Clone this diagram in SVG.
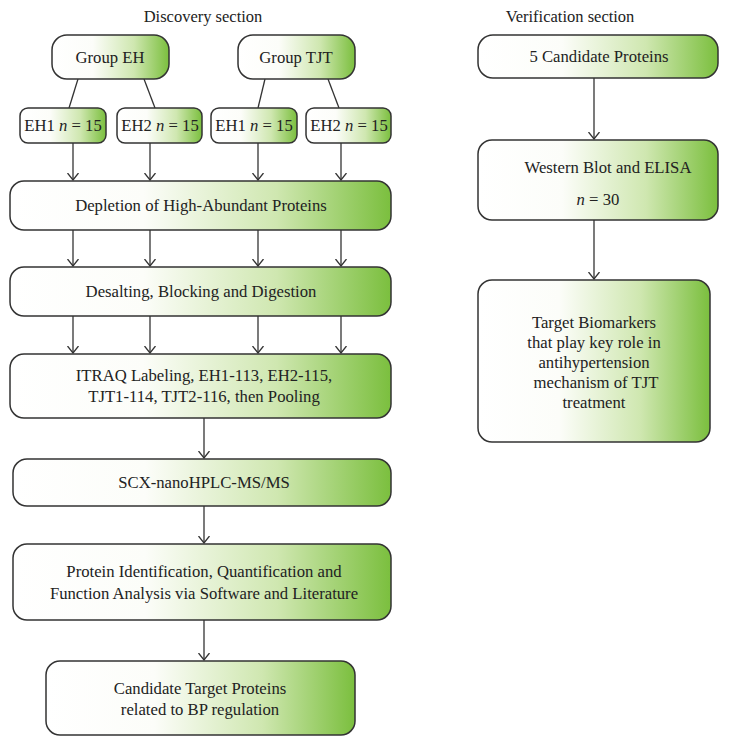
<svg xmlns="http://www.w3.org/2000/svg" width="729" height="746" viewBox="0 0 729 746">
<defs>
<linearGradient id="g" x1="0" y1="0" x2="1" y2="0">
<stop offset="0" stop-color="#ffffff"/>
<stop offset="0.35" stop-color="#fcfdf9"/>
<stop offset="0.7" stop-color="#cfe7b0"/>
<stop offset="1" stop-color="#7bbf3e"/>
</linearGradient>
<marker id="a" viewBox="0 0 8 12" refX="7.5" refY="6" markerWidth="8" markerHeight="12" markerUnits="userSpaceOnUse" orient="auto">
<path d="M0.5,0.5 L7.5,6 L0.5,11.5" fill="none" stroke="#333" stroke-width="1.3"/>
</marker>
<style>
.b{fill:url(#g);stroke:#333;stroke-width:1.5}
.t{font-family:"Liberation Serif","Times New Roman",serif;font-size:16.7px;fill:#222;text-anchor:middle}
.h{font-family:"Liberation Serif","Times New Roman",serif;font-size:16.5px;fill:#222;text-anchor:middle}
.c line{stroke:#333;stroke-width:1.3}
.c .ar{marker-end:url(#a)}
</style>
</defs>
<rect width="729" height="746" fill="#fff"/>
<text class="h" x="203" y="22">Discovery section</text>
<text class="h" x="570" y="22">Verification section</text>
<g class="c" id="connectors">
<line x1="78" y1="79" x2="69" y2="108"/>
<line x1="144" y1="79" x2="155" y2="108"/>
<line x1="265" y1="79" x2="258" y2="108"/>
<line x1="328" y1="79" x2="339" y2="108"/>
<line class="ar" x1="73" y1="143" x2="73" y2="180"/>
<line class="ar" x1="150" y1="143" x2="150" y2="180"/>
<line class="ar" x1="258" y1="143" x2="258" y2="180"/>
<line class="ar" x1="341" y1="143" x2="341" y2="180"/>
<line class="ar" x1="73" y1="230" x2="73" y2="266"/>
<line class="ar" x1="150" y1="230" x2="150" y2="266"/>
<line class="ar" x1="258" y1="230" x2="258" y2="266"/>
<line class="ar" x1="341" y1="230" x2="341" y2="266"/>
<line class="ar" x1="73" y1="316" x2="73" y2="353"/>
<line class="ar" x1="150" y1="316" x2="150" y2="353"/>
<line class="ar" x1="258" y1="316" x2="258" y2="353"/>
<line class="ar" x1="341" y1="316" x2="341" y2="353"/>
<line class="ar" x1="204" y1="418" x2="204" y2="458"/>
<line class="ar" x1="204" y1="506" x2="204" y2="543"/>
<line class="ar" x1="204" y1="620" x2="204" y2="660"/>
<line class="ar" x1="594" y1="78" x2="594" y2="139"/>
<line class="ar" x1="594" y1="220" x2="594" y2="279"/>
</g>
<g id="groupEH"><rect class="b" x="52" y="35" width="117" height="44" rx="15"/><text class="t" x="110" y="63">Group EH</text></g>
<g id="groupTJT"><rect class="b" x="238" y="35" width="117" height="44" rx="15"/><text class="t" x="296" y="63">Group TJT</text></g>
<g id="eh1a"><rect class="b" x="20" y="108" width="86" height="35" rx="8"/><text class="t" x="63" y="131">EH1 <tspan font-style="italic">n</tspan> = 15</text></g>
<g id="eh2a"><rect class="b" x="117" y="108" width="85" height="35" rx="8"/><text class="t" x="160" y="131">EH2 <tspan font-style="italic">n</tspan> = 15</text></g>
<g id="eh1b"><rect class="b" x="211" y="108" width="86" height="35" rx="8"/><text class="t" x="254" y="131">EH1 <tspan font-style="italic">n</tspan> = 15</text></g>
<g id="eh2b"><rect class="b" x="306" y="108" width="85" height="35" rx="8"/><text class="t" x="349" y="131">EH2 <tspan font-style="italic">n</tspan> = 15</text></g>
<g id="depletion"><rect class="b" x="10" y="181" width="381" height="49" rx="14"/><text class="t" x="201" y="211">Depletion of High-Abundant Proteins</text></g>
<g id="desalting"><rect class="b" x="10" y="267" width="381" height="49" rx="14"/><text class="t" x="201" y="297">Desalting, Blocking and Digestion</text></g>
<g id="itraq"><rect class="b" x="10" y="354" width="381" height="64" rx="14"/><text class="t" x="204" y="381">ITRAQ Labeling, EH1-113, EH2-115,</text><text class="t" x="204" y="402">TJT1-114, TJT2-116, then Pooling</text></g>
<g id="scx"><rect class="b" x="13" y="459" width="378" height="47" rx="14"/><text class="t" x="204" y="488">SCX-nanoHPLC-MS/MS</text></g>
<g id="protein"><rect class="b" x="13" y="544" width="378" height="76" rx="14"/><text class="t" x="204" y="577">Protein Identification, Quantification and</text><text class="t" x="204" y="599">Function Analysis via Software and Literature</text></g>
<g id="candidate"><rect class="b" x="46" y="661" width="309" height="74" rx="14"/><text class="t" x="200" y="694">Candidate Target Proteins</text><text class="t" x="200" y="715">related to BP regulation</text></g>
<g id="five"><rect class="b" x="478" y="35" width="240" height="43" rx="15"/><text class="t" x="599" y="62">5 Candidate Proteins</text></g>
<g id="western"><rect class="b" x="478" y="140" width="240" height="80" rx="14"/><text class="t" x="608" y="173">Western Blot and ELISA</text><text class="t" x="598" y="205"><tspan font-style="italic">n</tspan> = 30</text></g>
<g id="target"><rect class="b" x="478" y="280" width="232" height="162" rx="14"/><text class="t" x="594" y="328">Target Biomarkers</text><text class="t" x="594" y="348">that play key role in</text><text class="t" x="594" y="368">antihypertension</text><text class="t" x="596" y="388">mechanism of TJT</text><text class="t" x="594" y="408">treatment</text></g>
</svg>
